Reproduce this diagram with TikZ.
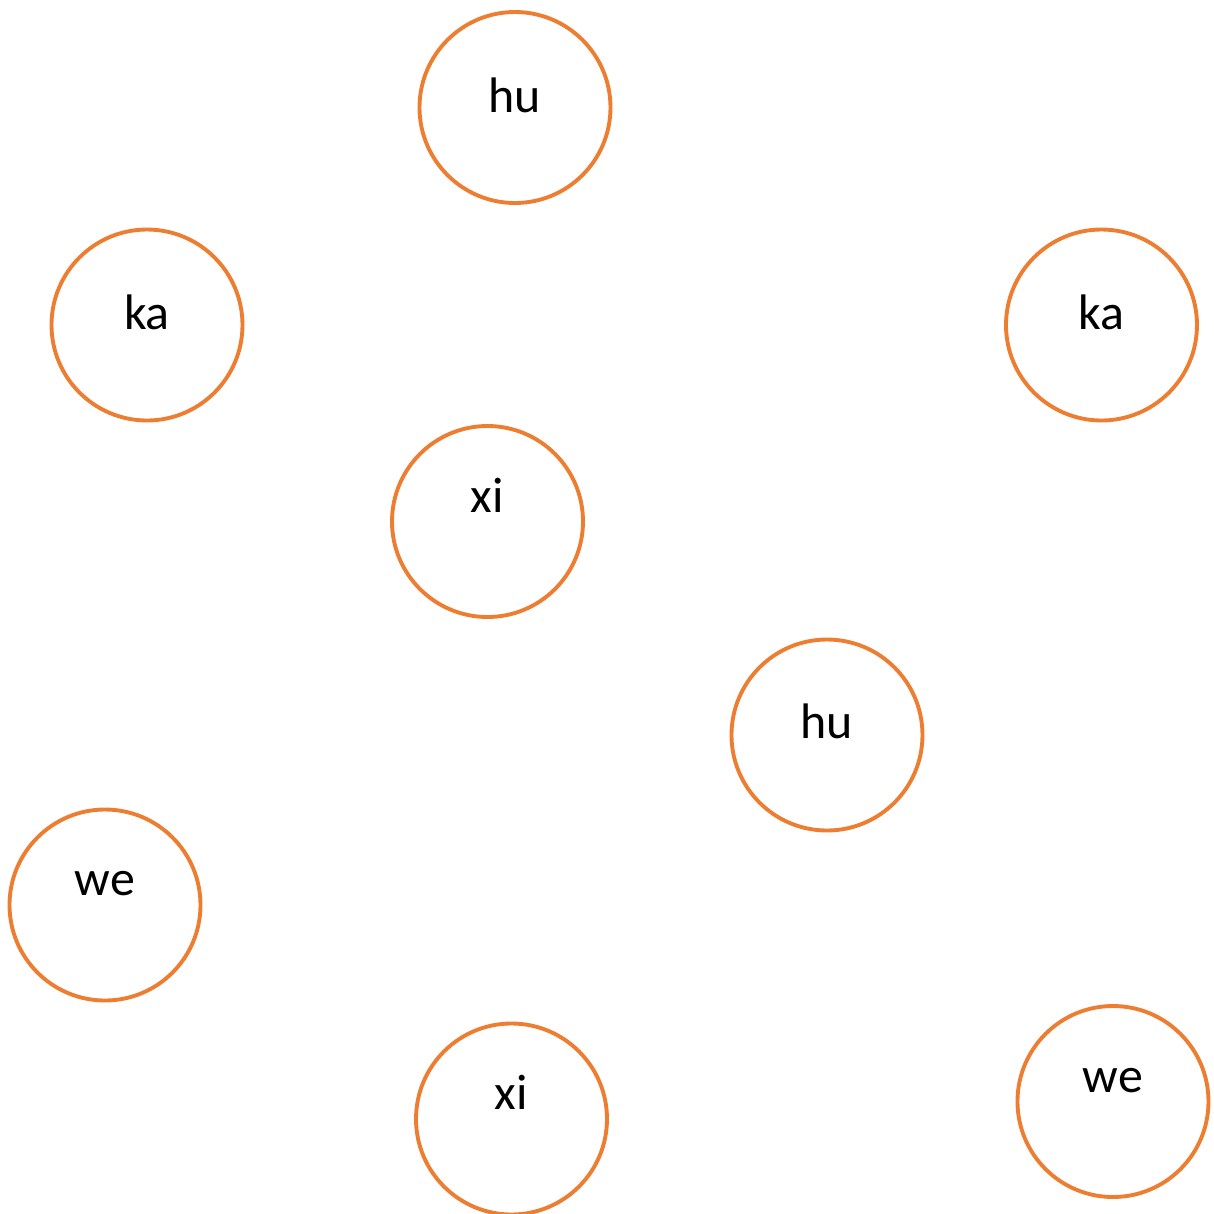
\documentclass[tikz,border=0pt]{standalone}
\usepackage{fontspec}
\setmainfont{Carlito}
\usepackage{tikz}
\usetikzlibrary{positioning}
\definecolor{ringorange}{RGB}{237,125,49}
\tikzset{
  ring/.style={circle, draw=ringorange, line width=1.1pt, fill=white,
               minimum size=1.91cm, inner sep=0pt},
  lbl/.style={font=\fontsize{14.2}{17}\selectfont, anchor=base, inner sep=0pt, text=black},
}

\begin{document}
\begin{tikzpicture}
    \useasboundingbox[fill=white] (0,0) rectangle (12.14,-12.14);
    % circles
    \node[ring] (hutop) at (5.15,-1.075) {};
    \node[ring] (kaleft) at (1.47,-3.25) {};
    \node[ring] (karight) at (11.015,-3.25) {};
    \node[ring] (ximid) at (4.875,-5.215) {};
    \node[ring] (humid) at (8.27,-7.35) {};
    \node[ring] (weleft) at (1.05,-9.05) {};
    \node[ring] (xibot) at (5.115,-11.19) {};
    \node[ring] (weright) at (11.13,-11.015) {};
    % labels
    \node[lbl] (hutoptext) at ([yshift=-0.045cm]hutop.center) {hu};
    \node[lbl] (kalefttext) at ([yshift=-0.04cm]kaleft.center) {ka};
    \node[lbl] (karighttext) at ([yshift=-0.04cm]karight.center) {ka};
    \node[lbl] (ximidtext) at ([yshift=0.095cm]ximid.center) {xi};
    \node[lbl] (humidtext) at ([yshift=-0.03cm]humid.center) {hu};
    \node[lbl] (welefttext) at ([yshift=0.10cm]weleft.center) {we};
    \node[lbl] (xibottext) at ([yshift=0.10cm]xibot.center) {xi};
    \node[lbl] (werighttext) at ([yshift=0.095cm]weright.center) {we};
\end{tikzpicture}
\end{document}
